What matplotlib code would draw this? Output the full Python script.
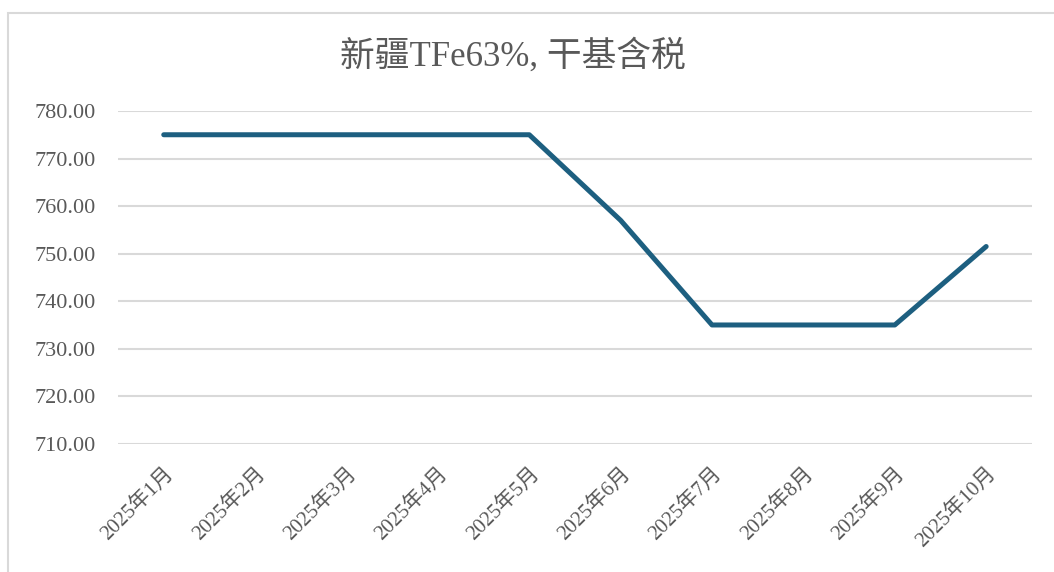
import matplotlib
matplotlib.use("Agg")
import matplotlib.pyplot as plt
from matplotlib.patches import Rectangle

months = ["2025年1月", "2025年2月", "2025年3月", "2025年4月", "2025年5月",
          "2025年6月", "2025年7月", "2025年8月", "2025年9月", "2025年10月"]
prices = [775, 775, 775, 775, 775, 757, 735, 735, 735, 751.5]
yticks = [710, 720, 730, 740, 750, 760, 770, 780]

plt.rcParams['font.family'] = ['Liberation Serif', 'Noto Sans CJK SC', 'DejaVu Sans']

fig = plt.figure(figsize=(10.54, 5.72), dpi=100)
# outer chart border (runs off the right and bottom edges like the screenshot)
fig.patches.append(Rectangle((8 / 1054, -10 / 572), 1100 / 1054, 569 / 572,
                             transform=fig.transFigure, fill=False,
                             edgecolor='#d9d9d9', linewidth=1.5))

ax = fig.add_axes([0.112, 0.224, 0.867, 0.582])
ax.plot(range(len(months)), prices, color='#1d5f80', linewidth=3.6,
        solid_capstyle='round', solid_joinstyle='round', zorder=3)

ax.set_xlim(-0.5, len(months) - 0.5)
ax.set_ylim(710, 780)
ax.set_yticks(yticks)
ax.set_yticklabels([f"{v:.2f}" for v in yticks], fontsize=16, color='#595959')
ax.set_xticks(range(len(months)))
ax.set_xticklabels(months, rotation=45, ha='right', rotation_mode='anchor',
                   fontsize=15, color='#595959')
ax.grid(axis='y', color='#d9d9d9', linewidth=1.5)
ax.tick_params(axis='y', length=0, pad=16)
ax.tick_params(axis='x', length=0, pad=14)
for s in ax.spines.values():
    s.set_visible(False)

fig.text(0.487, 0.902, "新疆TFe63%, 干基含税", ha='center', va='center',
         fontsize=25, color='#595959')

fig.savefig("out.png", dpi=100)
